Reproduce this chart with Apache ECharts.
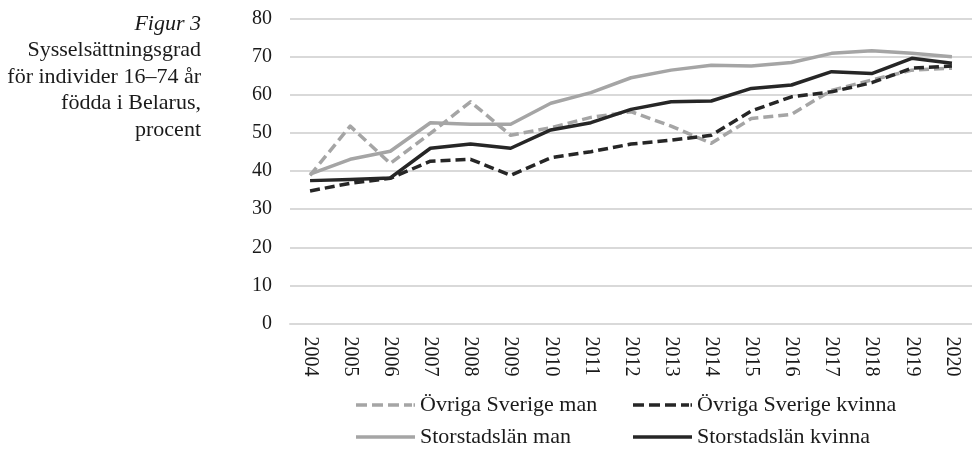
<!DOCTYPE html>
<html>
<head>
<meta charset="utf-8">
<script src="https://cdn.jsdelivr.net/npm/echarts@6/dist/echarts.min.js"></script>
<style>
html,body{margin:0;padding:0;background:#fff;}
#chart{width:972px;height:449px;}
</style>
</head>
<body>
<div id="chart"></div>
<script>
const years = ['2004','2005','2006','2007','2008','2009','2010','2011','2012','2013','2014','2015','2016','2017','2018','2019','2020'];
const ovrigaMan =      [38.9, 51.8, 42.0, 49.9, 58.2, 49.4, 51.4, 54.1, 55.6, 51.8, 47.3, 53.8, 54.9, 61.2, 63.9, 66.5, 67.0];
const ovrigaKvinna =   [34.8, 36.8, 38.1, 42.6, 43.1, 38.9, 43.5, 45.1, 47.1, 48.1, 49.4, 55.8, 59.5, 60.8, 63.2, 67.0, 67.6];
const storstadMan =    [39.2, 43.1, 45.2, 52.7, 52.3, 52.3, 57.8, 60.6, 64.5, 66.5, 67.8, 67.6, 68.5, 70.9, 71.6, 70.9, 70.0];
const storstadKvinna = [37.5, 37.8, 38.2, 46.0, 47.1, 46.0, 50.8, 52.7, 56.2, 58.2, 58.4, 61.7, 62.6, 66.1, 65.6, 69.6, 68.3];
const seriesNames = ['Övriga Sverige man','Övriga Sverige kvinna','Storstadslän man','Storstadslän kvinna'];
const captionLines = ['Figur 3','Sysselsättningsgrad','för individer 16–74 år','födda i Belarus,','procent'];

const FONT = '"Liberation Serif", "DejaVu Serif", serif';
const GREY = '#a5a5a5';
const DARK = '#262626';
const TXT = '#1a1a1a';

const chart = echarts.init(document.getElementById('chart'), null, {renderer:'canvas'});

const captionY = [24, 50.5, 77, 103.5, 130];
const graphics = captionLines.map((t, i) => ({
  type: 'text',
  x: 201,
  y: captionY[i],
  style: {
    text: t,
    fontFamily: FONT,
    fontSize: 22,
    fontStyle: i === 0 ? 'italic' : 'normal',
    fill: TXT,
    align: 'right',
    verticalAlign: 'middle'
  }
}));

function lineSeries(name, data, color, dashed) {
  return {
    name: name,
    type: 'line',
    data: data,
    symbol: 'none',
    showSymbol: false,
    smooth: false,
    animation: false,
    lineStyle: {
      color: color,
      width: 3.5,
      type: dashed ? [10, 5] : 'solid',
      cap: 'butt',
      join: 'round'
    },
    itemStyle: {color: color}
  };
}

const DASH_ICON = 'path://M0,0h11v3.5h-11z M16,0h11v3.5h-11z M32,0h11v3.5h-11z M48,0h8v3.5h-8z M57.5,0h1.5v3.5h-1.5z';
const SOLID_ICON = 'path://M0,0h59v3.5h-59z';
const legendText = {fontFamily: FONT, fontSize: 22, color: TXT};
const legendPos = [
  {left: 356, top: 394, icon: DASH_ICON},
  {left: 633, top: 394, icon: DASH_ICON},
  {left: 356, top: 426, icon: SOLID_ICON},
  {left: 633, top: 426, icon: SOLID_ICON}
];
const legends = seriesNames.map((n, i) => ({
  left: legendPos[i].left,
  top: legendPos[i].top,
  orient: 'horizontal',
  itemWidth: 59,
  itemHeight: 3.5,
  icon: legendPos[i].icon,
  textStyle: legendText,
  padding: 0,
  data: [n]
}));

chart.setOption({
  animation: false,
  backgroundColor: '#fff',
  graphic: graphics,
  grid: {left: 290, top: 18.7, width: 692, height: 304.8, containLabel: false},
  legend: legends,
  xAxis: {
    type: 'category',
    data: years,
    boundaryGap: true,
    axisTick: {show: false},
    axisLine: {lineStyle: {color: '#d9d9d9', width: 2}},
    axisLabel: {rotate: -90, margin: 13, fontFamily: FONT, fontSize: 20, color: TXT, interval: 0}
  },
  yAxis: {
    type: 'value',
    min: 0, max: 80, interval: 10,
    axisLine: {show: false},
    axisTick: {show: false},
    axisLabel: {margin: 18, fontFamily: FONT, fontSize: 20, color: TXT},
    splitLine: {lineStyle: {color: '#d9d9d9', width: 2}}
  },
  series: [
    lineSeries(seriesNames[0], ovrigaMan, GREY, true),
    lineSeries(seriesNames[1], ovrigaKvinna, DARK, true),
    lineSeries(seriesNames[2], storstadMan, GREY, false),
    lineSeries(seriesNames[3], storstadKvinna, DARK, false)
  ]
});
</script>
</body>
</html>
